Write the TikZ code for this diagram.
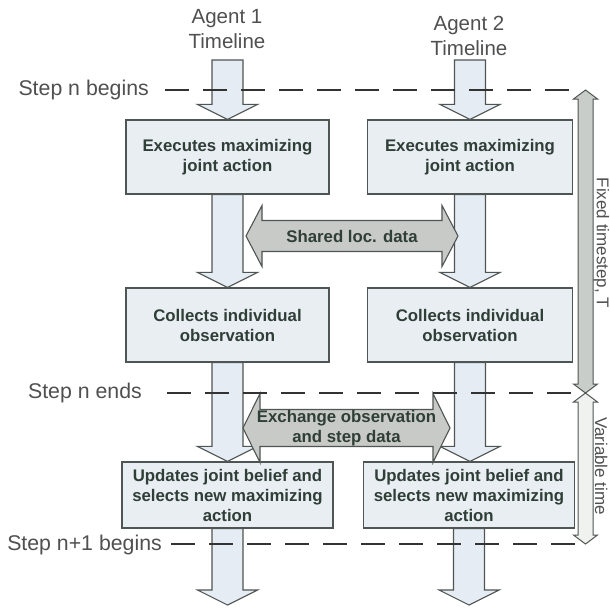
\documentclass[tikz,border=0pt]{standalone}
\usepackage{fontspec}
\setmainfont{Liberation Sans}
\usetikzlibrary{calc}
\definecolor{boxfill}{HTML}{E9EEF3}
\definecolor{shaftfill}{HTML}{E6ECF3}
\definecolor{edgecol}{HTML}{4F5552}
\definecolor{boldtxt}{HTML}{2F3E36}
\definecolor{plaintxt}{HTML}{505050}
\definecolor{sharefill}{HTML}{C8CAC8}
\definecolor{fixfill}{HTML}{C9CDC9}
\definecolor{varfill}{HTML}{F0F2F0}
\newcommand\blockdown[2]{%
  \draw[blockstyle] let \p1=(#1), \p2=(#2) in
    ({\x1-15.5pt},\y1) -- ({\x1-15.5pt},{\y2+15pt}) -- ({\x1-30pt},{\y2+15pt}) --
    (\x1,\y2) -- ({\x1+30pt},{\y2+15pt}) -- ({\x1+15.5pt},{\y2+15pt}) --
    ({\x1+15.5pt},\y1) -- cycle;}
% center, half length, head base offset, shaft half height, head half height
\newcommand\hdouble[6]{%
  \draw[#6] let \p1=(#1) in
    ({\x1-#2pt},\y1) -- ({\x1-#3pt},{\y1+#5pt}) -- ({\x1-#3pt},{\y1+#4pt}) --
    ({\x1+#3pt},{\y1+#4pt}) -- ({\x1+#3pt},{\y1+#5pt}) -- ({\x1+#2pt},\y1) --
    ({\x1+#3pt},{\y1-#5pt}) -- ({\x1+#3pt},{\y1-#4pt}) -- ({\x1-#3pt},{\y1-#4pt}) --
    ({\x1-#3pt},{\y1-#5pt}) -- cycle;}
% top tip, bottom tip, style
\newcommand\vdouble[3]{%
  \draw[#3] let \p1=(#1), \p2=(#2) in
    (\x1,\y1) -- ({\x1+12pt},{\y1-9pt}) -- ({\x1+7.5pt},{\y1-9pt}) --
    ({\x1+7.5pt},{\y2+9pt}) -- ({\x1+12pt},{\y2+9pt}) -- (\x1,\y2) --
    ({\x1-12pt},{\y2+9pt}) -- ({\x1-7.5pt},{\y2+9pt}) -- ({\x1-7.5pt},{\y1-9pt}) --
    ({\x1-12pt},{\y1-9pt}) -- cycle;}
\begin{document}
\begin{tikzpicture}[x=1pt,y=-1pt,
  stepbox/.style={draw=edgecol, line width=1.2pt, fill=boxfill, align=center,
    inner sep=0pt, font=\fontsize{16.8}{20}\selectfont\bfseries, text=boldtxt},
  plainlbl/.style={font=\fontsize{20.5}{25}\selectfont, text=plaintxt,
    inner sep=0pt, align=center},
  steplbl/.style={font=\fontsize{21.3}{25}\selectfont, text=plaintxt,
    inner sep=0pt, anchor=east},
  sidelbl/.style={font=\fontsize{17}{20}\selectfont, text=plaintxt,
    inner sep=0pt, rotate=-90},
  boldlbl/.style={font=\fontsize{16.8}{20}\selectfont\bfseries, text=boldtxt,
    inner sep=0pt, align=center},
  blockstyle/.style={draw=edgecol, line width=1.1pt, fill=shaftfill},
  sharestyle/.style={draw=edgecol, line width=1.1pt, fill=sharefill},
  fixstyle/.style={draw=edgecol, line width=1pt, fill=fixfill},
  varstyle/.style={draw=edgecol, line width=1pt, fill=varfill},
  stepline/.style={draw=black!80, line width=1.3pt, dash pattern=on 24pt off 14pt},
]
\useasboundingbox (0,0) rectangle (610,608);
\fill[white] (0,0) rectangle (610,608);

% timeline tops and ends
\coordinate (a1top) at (227.5,60);
\coordinate (a2top) at (470,60);
\coordinate (a1end) at (227.5,605);
\coordinate (a2end) at (470,605);

% boxes
\node[stepbox, minimum width=203pt, minimum height=74pt] (ex1) at (227.5,157)
  {Executes maximizing\\joint action};
\node[stepbox, minimum width=205pt, minimum height=74pt] (ex2) at (470,157)
  {Executes maximizing\\joint action};
\node[stepbox, minimum width=203pt, minimum height=74pt] (co1) at (227.5,325)
  {Collects individual\\observation};
\node[stepbox, minimum width=205pt, minimum height=74pt] (co2) at (470,325)
  {Collects individual\\observation};
\node[stepbox, minimum width=211pt, minimum height=66pt] (up1) at (227.5,495)
  {Updates joint belief and\\selects new maximizing\\action};
\node[stepbox, minimum width=211pt, minimum height=66pt] (up2) at (469,495)
  {Updates joint belief and\\selects new maximizing\\action};

% timeline block arrows
\blockdown{a1top}{ex1.north}
\blockdown{a2top}{ex2.north}
\blockdown{ex1.south}{co1.north}
\blockdown{ex2.south}{co2.north}
\blockdown{co1.south}{up1.north}
\blockdown{co2.south}{up2.north}
\blockdown{up1.south}{a1end}
\blockdown{up2.south}{a2end}

% exchange arrows
\coordinate (sharedc) at (352,236);
\hdouble{sharedc}{106}{90}{15.5}{30.5}{sharestyle}
\node[boldlbl] (shared) at (sharedc) {Shared loc. data};
\coordinate (exchc) at (346.5,428);
\hdouble{exchc}{103.5}{86.5}{18.5}{34.5}{sharestyle}
\node[boldlbl] (exch) at (exchc) {Exchange observation\\and step data};

% side time arrows
\coordinate (tTop) at (585.5,90);
\coordinate (tMid) at (585.5,393);
\coordinate (tBot) at (585.5,544);
\vdouble{tTop}{tMid}{fixstyle}
\vdouble{tMid}{tBot}{varstyle}
\node[sidelbl] (fixed) at (601.2,243) {Fixed timestep, T};
\node[sidelbl] (var) at (601.2,466) {Variable time};

% step labels and dashed lines
\node[steplbl] (sbeg) at (149,90) {Step n begins};
\node[steplbl] (send) at (142,393) {Step n ends};
\node[steplbl] (snext) at (162,545) {Step n+1 begins};
\draw[stepline] ([xshift=16pt]sbeg.east) -- ([xshift=-5pt]tTop);
\draw[stepline] ([xshift=25pt]send.east) -- ([xshift=-2pt]tMid);
\draw[stepline] ([xshift=9pt]snext.east |- tBot) -- ([xshift=-5pt]tBot);

% agent titles
\node[plainlbl] (ag1) at (227,29.5) {Agent 1\\Timeline};
\node[plainlbl] (ag2) at (469,35.5) {Agent 2\\Timeline};
\end{tikzpicture}
\end{document}
